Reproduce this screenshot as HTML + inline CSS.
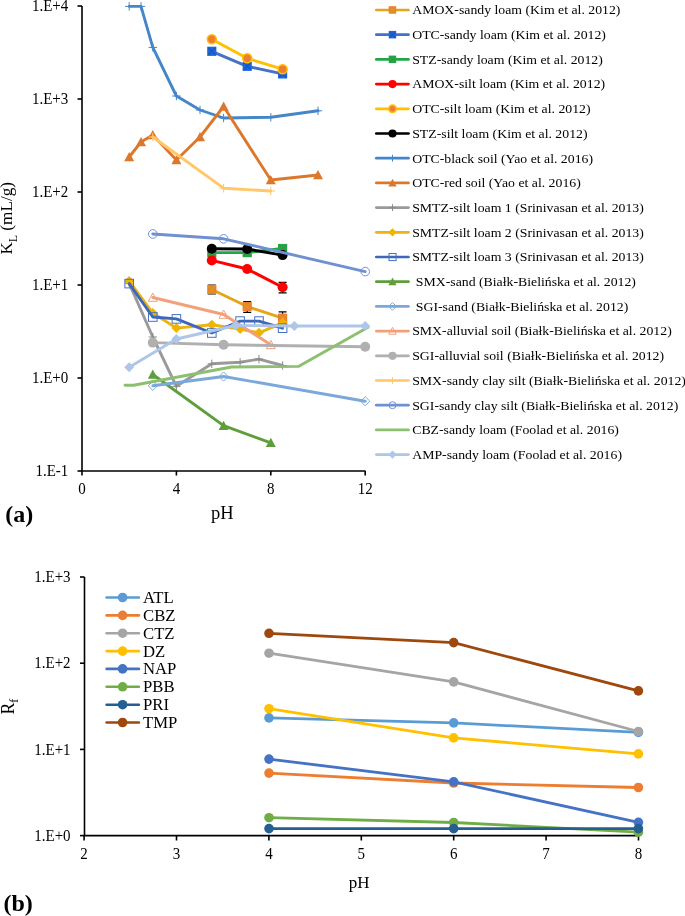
<!DOCTYPE html>
<html><head><meta charset="utf-8"><style>
html,body{margin:0;padding:0;background:#fff;}
svg{display:block;will-change:transform;}
text{font-family:"Liberation Serif", serif;fill:#000;}

</style></head><body>
<svg width="685" height="916" viewBox="0 0 685 916">

<path d="M82 6V471H365.5" stroke="#000" stroke-width="1.6" fill="none"/><path d="M77.5 6H82" stroke="#000" stroke-width="1.6"/><path d="M77.5 99H82" stroke="#000" stroke-width="1.6"/><path d="M77.5 192H82" stroke="#000" stroke-width="1.6"/><path d="M77.5 285H82" stroke="#000" stroke-width="1.6"/><path d="M77.5 378H82" stroke="#000" stroke-width="1.6"/><path d="M77.5 471H82" stroke="#000" stroke-width="1.6"/><path d="M82 471V475.5" stroke="#000" stroke-width="1.6"/><path d="M176.4 471V475.5" stroke="#000" stroke-width="1.6"/><path d="M270.8 471V475.5" stroke="#000" stroke-width="1.6"/><path d="M365.2 471V475.5" stroke="#000" stroke-width="1.6"/><text class="t" transform="translate(68.3,11.0) scale(1,1.08)" font-size="15" text-anchor="end">1.E+4</text><text class="t" transform="translate(68.3,104.0) scale(1,1.08)" font-size="15" text-anchor="end">1.E+3</text><text class="t" transform="translate(68.3,197.0) scale(1,1.08)" font-size="15" text-anchor="end">1.E+2</text><text class="t" transform="translate(68.3,290.0) scale(1,1.08)" font-size="15" text-anchor="end">1.E+1</text><text class="t" transform="translate(68.3,383.0) scale(1,1.08)" font-size="15" text-anchor="end">1.E+0</text><text class="t" transform="translate(68.3,476.0) scale(1,1.08)" font-size="15" text-anchor="end">1.E-1</text><text class="t" transform="translate(82,493.6) scale(1,1.08)" font-size="15" text-anchor="middle">0</text><text class="t" transform="translate(176.4,493.6) scale(1,1.08)" font-size="15" text-anchor="middle">4</text><text class="t" transform="translate(270.8,493.6) scale(1,1.08)" font-size="15" text-anchor="middle">8</text><text class="t" transform="translate(365.2,493.6) scale(1,1.08)" font-size="15" text-anchor="middle">12</text><text class="t" x="222.4" y="518.5" font-size="18.5" text-anchor="middle" font-weight="normal" >pH</text><text class="t" transform="translate(12.4,254.4) rotate(-90)" font-size="17.2">K<tspan font-size="11.5" dy="4.4">L</tspan><tspan dy="-4.4"> (mL/g)</tspan></text><text class="t" x="5.2" y="522.2" font-size="24" text-anchor="start" font-weight="bold" >(a)</text><g><polyline points="211.8,289.5 247.2,306.5 282.6,318.2" fill="none" stroke="#E3A51A" stroke-width="2.9" stroke-linejoin="round" stroke-linecap="round" /><path d="M211.8 285.0V294.0M207.8 285.0H215.8M207.8 294.0H215.8" stroke="#000" stroke-width="1.2" fill="none"/><path d="M247.2 301.7V312.3M243.2 301.7H251.2M243.2 312.3H251.2" stroke="#000" stroke-width="1.2" fill="none"/><path d="M282.6 311.8V325.0M278.6 311.8H286.6M278.6 325.0H286.6" stroke="#000" stroke-width="1.2" fill="none"/><rect x="207.2" y="284.9" width="9.2" height="9.2" fill="#ED7D31" stroke="none" stroke-width="1.0"/><path d="M208.2 285.9L215.4 293.1M215.4 285.9L208.2 293.1" stroke="#D8A01A" stroke-width="1.1"/><rect x="242.6" y="301.9" width="9.2" height="9.2" fill="#ED7D31" stroke="none" stroke-width="1.0"/><path d="M243.6 302.9L250.8 310.1M250.8 302.9L243.6 310.1" stroke="#D8A01A" stroke-width="1.1"/><rect x="278.0" y="313.6" width="9.2" height="9.2" fill="#ED7D31" stroke="none" stroke-width="1.0"/><path d="M279.0 314.6L286.2 321.8M286.2 314.6L279.0 321.8" stroke="#D8A01A" stroke-width="1.1"/></g><g><polyline points="211.8,51.3 247.2,66.3 282.6,73.9" fill="none" stroke="#4472C4" stroke-width="2.9" stroke-linejoin="round" stroke-linecap="round" /><rect x="207.2" y="46.7" width="9.2" height="9.2" fill="#1668E8" stroke="none" stroke-width="1.0"/><path d="M208.2 47.7L215.4 54.9M215.4 47.7L208.2 54.9" stroke="#2452A8" stroke-width="1.1"/><rect x="242.6" y="61.7" width="9.2" height="9.2" fill="#1668E8" stroke="none" stroke-width="1.0"/><path d="M243.6 62.7L250.8 69.9M250.8 62.7L243.6 69.9" stroke="#2452A8" stroke-width="1.1"/><rect x="278.0" y="69.3" width="9.2" height="9.2" fill="#1668E8" stroke="none" stroke-width="1.0"/><path d="M279.0 70.3L286.2 77.5M286.2 70.3L279.0 77.5" stroke="#2452A8" stroke-width="1.1"/></g><g><polyline points="211.8,252.6 247.2,252.6 282.6,248.5" fill="none" stroke="#1FA84A" stroke-width="2.9" stroke-linejoin="round" stroke-linecap="round" /><rect x="207.2" y="248.0" width="9.2" height="9.2" fill="#1FA84A" stroke="none" stroke-width="1.0"/><path d="M208.2 249.0L215.4 256.2M215.4 249.0L208.2 256.2" stroke="#4F8A3A" stroke-width="1.1"/><rect x="242.6" y="248.0" width="9.2" height="9.2" fill="#1FA84A" stroke="none" stroke-width="1.0"/><path d="M243.6 249.0L250.8 256.2M250.8 249.0L243.6 256.2" stroke="#4F8A3A" stroke-width="1.1"/><rect x="278.0" y="243.9" width="9.2" height="9.2" fill="#1FA84A" stroke="none" stroke-width="1.0"/><path d="M279.0 244.9L286.2 252.1M286.2 244.9L279.0 252.1" stroke="#4F8A3A" stroke-width="1.1"/></g><g><polyline points="211.8,260.4 247.2,269.0 282.6,287.2" fill="none" stroke="#FF0000" stroke-width="2.9" stroke-linejoin="round" stroke-linecap="round" /><path d="M282.6 282.3V292.8M278.6 282.3H286.6M278.6 292.8H286.6" stroke="#000" stroke-width="1.2" fill="none"/><circle cx="211.8" cy="260.4" r="5.0" fill="#FF0000" stroke="none" stroke-width="1.0"/><circle cx="247.2" cy="269.0" r="5.0" fill="#FF0000" stroke="none" stroke-width="1.0"/><circle cx="282.6" cy="287.2" r="5.0" fill="#FF0000" stroke="none" stroke-width="1.0"/></g><g><polyline points="211.8,39.2 247.2,58.3 282.6,69.2" fill="none" stroke="#FFC000" stroke-width="2.9" stroke-linejoin="round" stroke-linecap="round" /><circle cx="211.8" cy="39.2" r="4.5" fill="#ED7D31" stroke="#FFC000" stroke-width="1.6"/><circle cx="247.2" cy="58.3" r="4.5" fill="#ED7D31" stroke="#FFC000" stroke-width="1.6"/><circle cx="282.6" cy="69.2" r="4.5" fill="#ED7D31" stroke="#FFC000" stroke-width="1.6"/></g><g><polyline points="211.8,248.7 247.2,249.0 282.6,255.1" fill="none" stroke="#000000" stroke-width="2.9" stroke-linejoin="round" stroke-linecap="round" /><circle cx="211.8" cy="248.7" r="5.0" fill="#000000" stroke="none" stroke-width="1.0"/><circle cx="247.2" cy="249.0" r="5.0" fill="#000000" stroke="none" stroke-width="1.0"/><circle cx="282.6" cy="255.1" r="5.0" fill="#000000" stroke="none" stroke-width="1.0"/></g><g><polyline points="129.2,6.4 141.0,6.4 152.8,47.4 176.4,96.0 200.0,110.0 223.6,118.0 270.8,117.3 318.0,110.8" fill="none" stroke="#4586C8" stroke-width="2.9" stroke-linejoin="round" stroke-linecap="round" /><path d="M125.0 6.4H133.4M129.2 2.2V10.6" stroke="#4586C8" stroke-width="1.0" fill="none"/><path d="M136.8 6.4H145.2M141.0 2.2V10.6" stroke="#4586C8" stroke-width="1.0" fill="none"/><path d="M148.6 47.4H157.0M152.8 43.2V51.6" stroke="#4586C8" stroke-width="1.0" fill="none"/><path d="M172.2 96.0H180.6M176.4 91.8V100.2" stroke="#4586C8" stroke-width="1.0" fill="none"/><path d="M195.8 110.0H204.2M200.0 105.8V114.2" stroke="#4586C8" stroke-width="1.0" fill="none"/><path d="M219.4 118.0H227.8M223.6 113.8V122.2" stroke="#4586C8" stroke-width="1.0" fill="none"/><path d="M266.6 117.3H275.0M270.8 113.1V121.5" stroke="#4586C8" stroke-width="1.0" fill="none"/><path d="M313.8 110.8H322.2M318.0 106.6V115.0" stroke="#4586C8" stroke-width="1.0" fill="none"/></g><g><polyline points="129.2,157.0 141.0,142.0 152.8,135.0 176.4,160.0 200.0,137.0 223.6,106.5 270.8,180.0 318.0,175.0" fill="none" stroke="#DC782C" stroke-width="2.9" stroke-linejoin="round" stroke-linecap="round" /><polygon points="129.2,152.0 134.2,161.2 124.2,161.2" fill="#DC782C" stroke="none" stroke-width="1.0"/><polygon points="141.0,137.0 146.0,146.2 136.0,146.2" fill="#DC782C" stroke="none" stroke-width="1.0"/><polygon points="152.8,130.0 157.8,139.2 147.8,139.2" fill="#DC782C" stroke="none" stroke-width="1.0"/><polygon points="176.4,155.0 181.4,164.2 171.4,164.2" fill="#DC782C" stroke="none" stroke-width="1.0"/><polygon points="200.0,132.0 205.0,141.2 195.0,141.2" fill="#DC782C" stroke="none" stroke-width="1.0"/><polygon points="223.6,101.5 228.6,110.8 218.6,110.8" fill="#DC782C" stroke="none" stroke-width="1.0"/><polygon points="270.8,175.0 275.8,184.2 265.8,184.2" fill="#DC782C" stroke="none" stroke-width="1.0"/><polygon points="318.0,170.0 323.0,179.2 313.0,179.2" fill="#DC782C" stroke="none" stroke-width="1.0"/></g><g><polyline points="129.2,283.4 152.8,337.0 176.4,386.3 211.8,363.8 240.1,362.3 259.0,359.1 282.6,365.5" fill="none" stroke="#9A9A9A" stroke-width="2.9" stroke-linejoin="round" stroke-linecap="round" /><path d="M125.0 283.4H133.4M129.2 279.2V287.6" stroke="#8A8A8A" stroke-width="1.0" fill="none"/><path d="M148.6 337.0H157.0M152.8 332.8V341.2" stroke="#8A8A8A" stroke-width="1.0" fill="none"/><path d="M172.2 386.3H180.6M176.4 382.1V390.5" stroke="#8A8A8A" stroke-width="1.0" fill="none"/><path d="M207.6 363.8H216.0M211.8 359.6V368.0" stroke="#8A8A8A" stroke-width="1.0" fill="none"/><path d="M235.9 362.3H244.3M240.1 358.1V366.5" stroke="#8A8A8A" stroke-width="1.0" fill="none"/><path d="M254.8 359.1H263.2M259.0 354.9V363.3" stroke="#8A8A8A" stroke-width="1.0" fill="none"/><path d="M278.4 365.5H286.8M282.6 361.3V369.7" stroke="#8A8A8A" stroke-width="1.0" fill="none"/></g><g><polyline points="129.2,281.0 152.8,313.0 176.4,328.1 211.8,324.7 240.1,329.1 259.0,332.8 282.6,322.8" fill="none" stroke="#EBB313" stroke-width="2.9" stroke-linejoin="round" stroke-linecap="round" /><polygon points="129.2,276.0 134.2,281.0 129.2,286.0 124.2,281.0" fill="#F0B400" stroke="none" stroke-width="1.0"/><polygon points="152.8,308.0 157.8,313.0 152.8,318.0 147.8,313.0" fill="#F0B400" stroke="none" stroke-width="1.0"/><polygon points="176.4,323.1 181.4,328.1 176.4,333.1 171.4,328.1" fill="#F0B400" stroke="none" stroke-width="1.0"/><polygon points="211.8,319.7 216.8,324.7 211.8,329.7 206.8,324.7" fill="#F0B400" stroke="none" stroke-width="1.0"/><polygon points="240.1,324.1 245.1,329.1 240.1,334.1 235.1,329.1" fill="#F0B400" stroke="none" stroke-width="1.0"/><polygon points="259.0,327.8 264.0,332.8 259.0,337.8 254.0,332.8" fill="#F0B400" stroke="none" stroke-width="1.0"/><polygon points="282.6,317.8 287.6,322.8 282.6,327.8 277.6,322.8" fill="#F0B400" stroke="none" stroke-width="1.0"/></g><g><polyline points="129.2,283.6 152.8,317.0 176.4,318.9 211.8,333.0 240.1,321.1 259.0,321.1 282.6,328.2" fill="none" stroke="#3E66BA" stroke-width="2.9" stroke-linejoin="round" stroke-linecap="round" /><rect x="124.9" y="279.3" width="8.6" height="8.6" fill="none" stroke="#4472C4" stroke-width="1.0"/><rect x="148.5" y="312.7" width="8.6" height="8.6" fill="none" stroke="#4472C4" stroke-width="1.0"/><rect x="172.1" y="314.6" width="8.6" height="8.6" fill="none" stroke="#4472C4" stroke-width="1.0"/><rect x="207.5" y="328.7" width="8.6" height="8.6" fill="none" stroke="#4472C4" stroke-width="1.0"/><rect x="235.8" y="316.8" width="8.6" height="8.6" fill="none" stroke="#4472C4" stroke-width="1.0"/><rect x="254.7" y="316.8" width="8.6" height="8.6" fill="none" stroke="#4472C4" stroke-width="1.0"/><rect x="278.3" y="323.9" width="8.6" height="8.6" fill="none" stroke="#4472C4" stroke-width="1.0"/></g><g><polyline points="152.8,374.5 223.6,425.7 270.8,442.8" fill="none" stroke="#5E9F3C" stroke-width="2.9" stroke-linejoin="round" stroke-linecap="round" /><polygon points="152.8,369.5 157.8,378.8 147.8,378.8" fill="#5E9F3C" stroke="none" stroke-width="1.0"/><polygon points="223.6,420.7 228.6,429.9 218.6,429.9" fill="#5E9F3C" stroke="none" stroke-width="1.0"/><polygon points="270.8,437.8 275.8,447.1 265.8,447.1" fill="#5E9F3C" stroke="none" stroke-width="1.0"/></g><g><polyline points="152.8,385.8 223.6,376.5 365.2,401.2" fill="none" stroke="#7BA8DB" stroke-width="2.9" stroke-linejoin="round" stroke-linecap="round" /><polygon points="152.8,381.2 157.4,385.8 152.8,390.4 148.2,385.8" fill="none" stroke="#7BA8DB" stroke-width="1.0"/><polygon points="223.6,371.9 228.2,376.5 223.6,381.1 219.0,376.5" fill="none" stroke="#7BA8DB" stroke-width="1.0"/><polygon points="365.2,396.6 369.8,401.2 365.2,405.8 360.6,401.2" fill="none" stroke="#7BA8DB" stroke-width="1.0"/></g><g><polyline points="152.8,297.5 223.6,314.5 270.8,344.8" fill="none" stroke="#F2A07C" stroke-width="2.9" stroke-linejoin="round" stroke-linecap="round" /><polygon points="152.8,293.0 157.3,301.3 148.3,301.3" fill="none" stroke="#F2A07C" stroke-width="1.0"/><polygon points="223.6,310.0 228.1,318.3 219.1,318.3" fill="none" stroke="#F2A07C" stroke-width="1.0"/><polygon points="270.8,340.3 275.3,348.6 266.3,348.6" fill="none" stroke="#F2A07C" stroke-width="1.0"/></g><g><polyline points="152.8,342.6 223.6,344.8 365.2,346.7" fill="none" stroke="#B0B0B0" stroke-width="2.9" stroke-linejoin="round" stroke-linecap="round" /><circle cx="152.8" cy="342.6" r="5.0" fill="#B0B0B0" stroke="none" stroke-width="1.0"/><circle cx="223.6" cy="344.8" r="5.0" fill="#B0B0B0" stroke="none" stroke-width="1.0"/><circle cx="365.2" cy="346.7" r="5.0" fill="#B0B0B0" stroke="none" stroke-width="1.0"/></g><g><polyline points="152.8,137.0 223.6,188.2 270.8,191.0" fill="none" stroke="#FFC76A" stroke-width="2.9" stroke-linejoin="round" stroke-linecap="round" /><path d="M148.6 137.0H157.0M152.8 132.8V141.2" stroke="#FFC76A" stroke-width="1.0" fill="none"/><path d="M219.4 188.2H227.8M223.6 184.0V192.4" stroke="#FFC76A" stroke-width="1.0" fill="none"/><path d="M266.6 191.0H275.0M270.8 186.8V195.2" stroke="#FFC76A" stroke-width="1.0" fill="none"/></g><g><polyline points="152.8,234.0 223.6,238.8 365.2,271.6" fill="none" stroke="#7190D2" stroke-width="2.9" stroke-linejoin="round" stroke-linecap="round" /><circle cx="152.8" cy="234.0" r="4.3" fill="none" stroke="#7190D2" stroke-width="1.0"/><circle cx="223.6" cy="238.8" r="4.3" fill="none" stroke="#7190D2" stroke-width="1.0"/><circle cx="365.2" cy="271.6" r="4.3" fill="none" stroke="#7190D2" stroke-width="1.0"/></g><g><polyline points="125.0,385.3 133.6,385.2 231.5,367.0 298.4,366.4 368.0,327.3" fill="none" stroke="#8CBF70" stroke-width="2.9" stroke-linejoin="round" stroke-linecap="round" /></g><g><polyline points="129.2,367.3 176.4,339.0 235.4,325.5 294.4,326.0 365.2,326.0" fill="none" stroke="#AEC6E8" stroke-width="2.9" stroke-linejoin="round" stroke-linecap="round" /><polygon points="129.2,362.3 134.2,367.3 129.2,372.3 124.2,367.3" fill="#AEC6E8" stroke="none" stroke-width="1.0"/><polygon points="176.4,334.0 181.4,339.0 176.4,344.0 171.4,339.0" fill="#AEC6E8" stroke="none" stroke-width="1.0"/><polygon points="235.4,320.5 240.4,325.5 235.4,330.5 230.4,325.5" fill="#AEC6E8" stroke="none" stroke-width="1.0"/><polygon points="294.4,321.0 299.4,326.0 294.4,331.0 289.4,326.0" fill="#AEC6E8" stroke="none" stroke-width="1.0"/><polygon points="365.2,321.0 370.2,326.0 365.2,331.0 360.2,326.0" fill="#AEC6E8" stroke="none" stroke-width="1.0"/></g><path d="M376.3 10.0H408.5" stroke="#E3A51A" stroke-width="2.7" stroke-linecap="round"/><rect x="388.7" y="6.2" width="7.5" height="7.5" fill="#ED7D31" stroke="none" stroke-width="1.0"/><path d="M389.7 7.2L395.3 12.8M395.3 7.2L389.7 12.8" stroke="#D8A01A" stroke-width="1.1"/><text class="t" transform="translate(412.2,14.3) scale(1,0.97)" font-size="13.8">AMOX-sandy loam (Kim et al. 2012)</text><path d="M376.3 34.7H408.5" stroke="#4472C4" stroke-width="2.7" stroke-linecap="round"/><rect x="388.7" y="30.9" width="7.5" height="7.5" fill="#1668E8" stroke="none" stroke-width="1.0"/><path d="M389.7 31.9L395.3 37.5M395.3 31.9L389.7 37.5" stroke="#2452A8" stroke-width="1.1"/><text class="t" transform="translate(412.2,39.0) scale(1,0.97)" font-size="13.8">OTC-sandy loam (Kim et al. 2012)</text><path d="M376.3 59.4H408.5" stroke="#1FA84A" stroke-width="2.7" stroke-linecap="round"/><rect x="388.7" y="55.6" width="7.5" height="7.5" fill="#1FA84A" stroke="none" stroke-width="1.0"/><path d="M389.7 56.6L395.3 62.2M395.3 56.6L389.7 62.2" stroke="#4F8A3A" stroke-width="1.1"/><text class="t" transform="translate(412.2,63.7) scale(1,0.97)" font-size="13.8">STZ-sandy loam (Kim et al. 2012)</text><path d="M376.3 84.1H408.5" stroke="#FF0000" stroke-width="2.7" stroke-linecap="round"/><circle cx="392.5" cy="84.1" r="4.1" fill="#FF0000" stroke="none" stroke-width="1.0"/><text class="t" transform="translate(412.2,88.4) scale(1,0.97)" font-size="13.8">AMOX-silt loam (Kim et al. 2012)</text><path d="M376.3 108.8H408.5" stroke="#FFC000" stroke-width="2.7" stroke-linecap="round"/><circle cx="392.5" cy="108.8" r="3.7" fill="#ED7D31" stroke="#FFC000" stroke-width="1.6"/><text class="t" transform="translate(412.2,113.1) scale(1,0.97)" font-size="13.8">OTC-silt loam (Kim et al. 2012)</text><path d="M376.3 133.5H408.5" stroke="#000000" stroke-width="2.7" stroke-linecap="round"/><circle cx="392.5" cy="133.5" r="4.1" fill="#000000" stroke="none" stroke-width="1.0"/><text class="t" transform="translate(412.2,137.8) scale(1,0.97)" font-size="13.8">STZ-silt loam (Kim et al. 2012)</text><path d="M376.3 158.2H408.5" stroke="#4586C8" stroke-width="2.7" stroke-linecap="round"/><path d="M389.1 158.2H395.9M392.5 154.8V161.6" stroke="#4586C8" stroke-width="1.0" fill="none"/><text class="t" transform="translate(412.2,162.5) scale(1,0.97)" font-size="13.8">OTC-black soil (Yao et al. 2016)</text><path d="M376.3 182.9H408.5" stroke="#DC782C" stroke-width="2.7" stroke-linecap="round"/><polygon points="392.5,178.8 396.6,186.4 388.4,186.4" fill="#DC782C" stroke="none" stroke-width="1.0"/><text class="t" transform="translate(412.2,187.2) scale(1,0.97)" font-size="13.8">OTC-red soil (Yao et al. 2016)</text><path d="M376.3 207.6H408.5" stroke="#9A9A9A" stroke-width="2.7" stroke-linecap="round"/><path d="M389.1 207.6H395.9M392.5 204.2V211.0" stroke="#8A8A8A" stroke-width="1.0" fill="none"/><text class="t" transform="translate(412.2,211.9) scale(1,0.97)" font-size="13.8">SMTZ-silt loam 1 (Srinivasan et al. 2013)</text><path d="M376.3 232.3H408.5" stroke="#EBB313" stroke-width="2.7" stroke-linecap="round"/><polygon points="392.5,228.2 396.6,232.3 392.5,236.4 388.4,232.3" fill="#F0B400" stroke="none" stroke-width="1.0"/><text class="t" transform="translate(412.2,236.6) scale(1,0.97)" font-size="13.8">SMTZ-silt loam 2 (Srinivasan et al. 2013)</text><path d="M376.3 257.0H408.5" stroke="#3E66BA" stroke-width="2.7" stroke-linecap="round"/><rect x="389.0" y="253.5" width="7.1" height="7.1" fill="none" stroke="#4472C4" stroke-width="1.0"/><text class="t" transform="translate(412.2,261.3) scale(1,0.97)" font-size="13.8">SMTZ-silt loam 3 (Srinivasan et al. 2013)</text><path d="M376.3 281.7H408.5" stroke="#5E9F3C" stroke-width="2.7" stroke-linecap="round"/><polygon points="392.5,277.6 396.6,285.2 388.4,285.2" fill="#5E9F3C" stroke="none" stroke-width="1.0"/><text class="t" transform="translate(415.8,286.0) scale(1,0.97)" font-size="13.8">SMX-sand (Białk-Bielińska et al. 2012)</text><path d="M376.3 306.4H408.5" stroke="#7BA8DB" stroke-width="2.7" stroke-linecap="round"/><polygon points="392.5,302.6 396.3,306.4 392.5,310.2 388.7,306.4" fill="none" stroke="#7BA8DB" stroke-width="1.0"/><text class="t" transform="translate(415.8,310.7) scale(1,0.97)" font-size="13.8">SGI-sand (Białk-Bielińska et al. 2012)</text><path d="M376.3 331.1H408.5" stroke="#F2A07C" stroke-width="2.7" stroke-linecap="round"/><polygon points="392.5,327.4 396.2,334.2 388.8,334.2" fill="none" stroke="#F2A07C" stroke-width="1.0"/><text class="t" transform="translate(412.2,335.4) scale(1,0.97)" font-size="13.8">SMX-alluvial soil (Białk-Bielińska et al. 2012)</text><path d="M376.3 355.8H408.5" stroke="#B0B0B0" stroke-width="2.7" stroke-linecap="round"/><circle cx="392.5" cy="355.8" r="4.1" fill="#B0B0B0" stroke="none" stroke-width="1.0"/><text class="t" transform="translate(412.2,360.1) scale(1,0.97)" font-size="13.8">SGI-alluvial soil (Białk-Bielińska et al. 2012)</text><path d="M376.3 380.5H408.5" stroke="#FFC76A" stroke-width="2.7" stroke-linecap="round"/><path d="M389.1 380.5H395.9M392.5 377.1V383.9" stroke="#FFC76A" stroke-width="1.0" fill="none"/><text class="t" transform="translate(412.2,384.8) scale(1,0.97)" font-size="13.8">SMX-sandy clay silt (Białk-Bielińska et al. 2012)</text><path d="M376.3 405.2H408.5" stroke="#7190D2" stroke-width="2.7" stroke-linecap="round"/><circle cx="392.5" cy="405.2" r="3.5" fill="none" stroke="#7190D2" stroke-width="1.0"/><text class="t" transform="translate(412.2,409.5) scale(1,0.97)" font-size="13.8">SGI-sandy clay silt (Białk-Bielińska et al. 2012)</text><path d="M376.3 429.9H408.5" stroke="#8CBF70" stroke-width="2.7" stroke-linecap="round"/><text class="t" transform="translate(412.2,434.2) scale(1,0.97)" font-size="13.8">CBZ-sandy loam (Foolad et al. 2016)</text><path d="M376.3 454.6H408.5" stroke="#AEC6E8" stroke-width="2.7" stroke-linecap="round"/><polygon points="392.5,450.5 396.6,454.6 392.5,458.7 388.4,454.6" fill="#AEC6E8" stroke="none" stroke-width="1.0"/><text class="t" transform="translate(412.2,458.9) scale(1,0.97)" font-size="13.8">AMP-sandy loam (Foolad et al. 2016)</text>
<path d="M84.5 577V835.6H638.5" stroke="#000" stroke-width="1.6" fill="none"/><path d="M80 577.0H84.5" stroke="#000" stroke-width="1.6"/><text class="t" transform="translate(70.6,582.1) scale(1,1.08)" font-size="15" text-anchor="end">1.E+3</text><path d="M80 663.2H84.5" stroke="#000" stroke-width="1.6"/><text class="t" transform="translate(70.6,668.3) scale(1,1.08)" font-size="15" text-anchor="end">1.E+2</text><path d="M80 749.4H84.5" stroke="#000" stroke-width="1.6"/><text class="t" transform="translate(70.6,754.5) scale(1,1.08)" font-size="15" text-anchor="end">1.E+1</text><path d="M80 835.6H84.5" stroke="#000" stroke-width="1.6"/><text class="t" transform="translate(70.6,840.7) scale(1,1.08)" font-size="15" text-anchor="end">1.E+0</text><path d="M84.1 835.6V840.5" stroke="#000" stroke-width="1.6"/><text class="t" transform="translate(84.1,859) scale(1,1.08)" font-size="15" text-anchor="middle">2</text><path d="M176.5 835.6V840.5" stroke="#000" stroke-width="1.6"/><text class="t" transform="translate(176.5,859) scale(1,1.08)" font-size="15" text-anchor="middle">3</text><path d="M268.9 835.6V840.5" stroke="#000" stroke-width="1.6"/><text class="t" transform="translate(268.9,859) scale(1,1.08)" font-size="15" text-anchor="middle">4</text><path d="M361.3 835.6V840.5" stroke="#000" stroke-width="1.6"/><text class="t" transform="translate(361.3,859) scale(1,1.08)" font-size="15" text-anchor="middle">5</text><path d="M453.7 835.6V840.5" stroke="#000" stroke-width="1.6"/><text class="t" transform="translate(453.7,859) scale(1,1.08)" font-size="15" text-anchor="middle">6</text><path d="M546.1 835.6V840.5" stroke="#000" stroke-width="1.6"/><text class="t" transform="translate(546.1,859) scale(1,1.08)" font-size="15" text-anchor="middle">7</text><path d="M638.5 835.6V840.5" stroke="#000" stroke-width="1.6"/><text class="t" transform="translate(638.5,859) scale(1,1.08)" font-size="15" text-anchor="middle">8</text><text class="t" x="359.2" y="887.8" font-size="17" text-anchor="middle" font-weight="normal" >pH</text><text class="t" transform="translate(14.4,714.6) rotate(-90)" font-size="17.8">R<tspan font-size="12" dy="3.8">f</tspan></text><text class="t" x="3.4" y="911.3" font-size="24" text-anchor="start" font-weight="bold" >(b)</text><polyline points="269.0,717.9 453.7,722.9 638.4,732.4" fill="none" stroke="#5B9BD5" stroke-width="2.8" stroke-linejoin="round" stroke-linecap="round" /><circle cx="269.0" cy="717.9" r="4.8" fill="#5B9BD5"/><circle cx="453.7" cy="722.9" r="4.8" fill="#5B9BD5"/><circle cx="638.4" cy="732.4" r="4.8" fill="#5B9BD5"/><polyline points="269.0,773.1 453.7,783.0 638.4,787.5" fill="none" stroke="#ED7D31" stroke-width="2.8" stroke-linejoin="round" stroke-linecap="round" /><circle cx="269.0" cy="773.1" r="4.8" fill="#ED7D31"/><circle cx="453.7" cy="783.0" r="4.8" fill="#ED7D31"/><circle cx="638.4" cy="787.5" r="4.8" fill="#ED7D31"/><polyline points="269.0,653.2 453.7,681.9 638.4,731.5" fill="none" stroke="#A5A5A5" stroke-width="2.8" stroke-linejoin="round" stroke-linecap="round" /><circle cx="269.0" cy="653.2" r="4.8" fill="#A5A5A5"/><circle cx="453.7" cy="681.9" r="4.8" fill="#A5A5A5"/><circle cx="638.4" cy="731.5" r="4.8" fill="#A5A5A5"/><polyline points="269.0,708.7 453.7,737.9 638.4,753.9" fill="none" stroke="#FFC000" stroke-width="2.8" stroke-linejoin="round" stroke-linecap="round" /><circle cx="269.0" cy="708.7" r="4.8" fill="#FFC000"/><circle cx="453.7" cy="737.9" r="4.8" fill="#FFC000"/><circle cx="638.4" cy="753.9" r="4.8" fill="#FFC000"/><polyline points="269.0,759.1 453.7,781.8 638.4,822.4" fill="none" stroke="#4472C4" stroke-width="2.8" stroke-linejoin="round" stroke-linecap="round" /><circle cx="269.0" cy="759.1" r="4.8" fill="#4472C4"/><circle cx="453.7" cy="781.8" r="4.8" fill="#4472C4"/><circle cx="638.4" cy="822.4" r="4.8" fill="#4472C4"/><polyline points="269.0,817.7 453.7,822.5 638.4,832.2" fill="none" stroke="#70AD47" stroke-width="2.8" stroke-linejoin="round" stroke-linecap="round" /><circle cx="269.0" cy="817.7" r="4.8" fill="#70AD47"/><circle cx="453.7" cy="822.5" r="4.8" fill="#70AD47"/><circle cx="638.4" cy="832.2" r="4.8" fill="#70AD47"/><polyline points="269.0,828.6 453.7,828.6 638.4,828.6" fill="none" stroke="#255E91" stroke-width="2.8" stroke-linejoin="round" stroke-linecap="round" /><circle cx="269.0" cy="828.6" r="4.8" fill="#255E91"/><circle cx="453.7" cy="828.6" r="4.8" fill="#255E91"/><circle cx="638.4" cy="828.6" r="4.8" fill="#255E91"/><polyline points="269.0,633.3 453.7,642.6 638.4,690.9" fill="none" stroke="#9E480E" stroke-width="2.8" stroke-linejoin="round" stroke-linecap="round" /><circle cx="269.0" cy="633.3" r="4.8" fill="#9E480E"/><circle cx="453.7" cy="642.6" r="4.8" fill="#9E480E"/><circle cx="638.4" cy="690.9" r="4.8" fill="#9E480E"/><path d="M106.6 597.5H138.9" stroke="#5B9BD5" stroke-width="2.6" stroke-linecap="round"/><circle cx="122.6" cy="597.5" r="4.8" fill="#5B9BD5"/><text class="t" x="143.0" y="603.0" font-size="16.7" text-anchor="start" font-weight="normal" >ATL</text><path d="M106.6 615.4H138.9" stroke="#ED7D31" stroke-width="2.6" stroke-linecap="round"/><circle cx="122.6" cy="615.4" r="4.8" fill="#ED7D31"/><text class="t" x="143.0" y="620.9" font-size="16.7" text-anchor="start" font-weight="normal" >CBZ</text><path d="M106.6 633.2H138.9" stroke="#A5A5A5" stroke-width="2.6" stroke-linecap="round"/><circle cx="122.6" cy="633.2" r="4.8" fill="#A5A5A5"/><text class="t" x="143.0" y="638.7" font-size="16.7" text-anchor="start" font-weight="normal" >CTZ</text><path d="M106.6 651.1H138.9" stroke="#FFC000" stroke-width="2.6" stroke-linecap="round"/><circle cx="122.6" cy="651.1" r="4.8" fill="#FFC000"/><text class="t" x="143.0" y="656.6" font-size="16.7" text-anchor="start" font-weight="normal" >DZ</text><path d="M106.6 668.9H138.9" stroke="#4472C4" stroke-width="2.6" stroke-linecap="round"/><circle cx="122.6" cy="668.9" r="4.8" fill="#4472C4"/><text class="t" x="143.0" y="674.4" font-size="16.7" text-anchor="start" font-weight="normal" >NAP</text><path d="M106.6 686.8H138.9" stroke="#70AD47" stroke-width="2.6" stroke-linecap="round"/><circle cx="122.6" cy="686.8" r="4.8" fill="#70AD47"/><text class="t" x="143.0" y="692.3" font-size="16.7" text-anchor="start" font-weight="normal" >PBB</text><path d="M106.6 704.7H138.9" stroke="#255E91" stroke-width="2.6" stroke-linecap="round"/><circle cx="122.6" cy="704.7" r="4.8" fill="#255E91"/><text class="t" x="143.0" y="710.2" font-size="16.7" text-anchor="start" font-weight="normal" >PRI</text><path d="M106.6 722.5H138.9" stroke="#9E480E" stroke-width="2.6" stroke-linecap="round"/><circle cx="122.6" cy="722.5" r="4.8" fill="#9E480E"/><text class="t" x="143.0" y="728.0" font-size="16.7" text-anchor="start" font-weight="normal" >TMP</text>
</svg>
</body></html>
